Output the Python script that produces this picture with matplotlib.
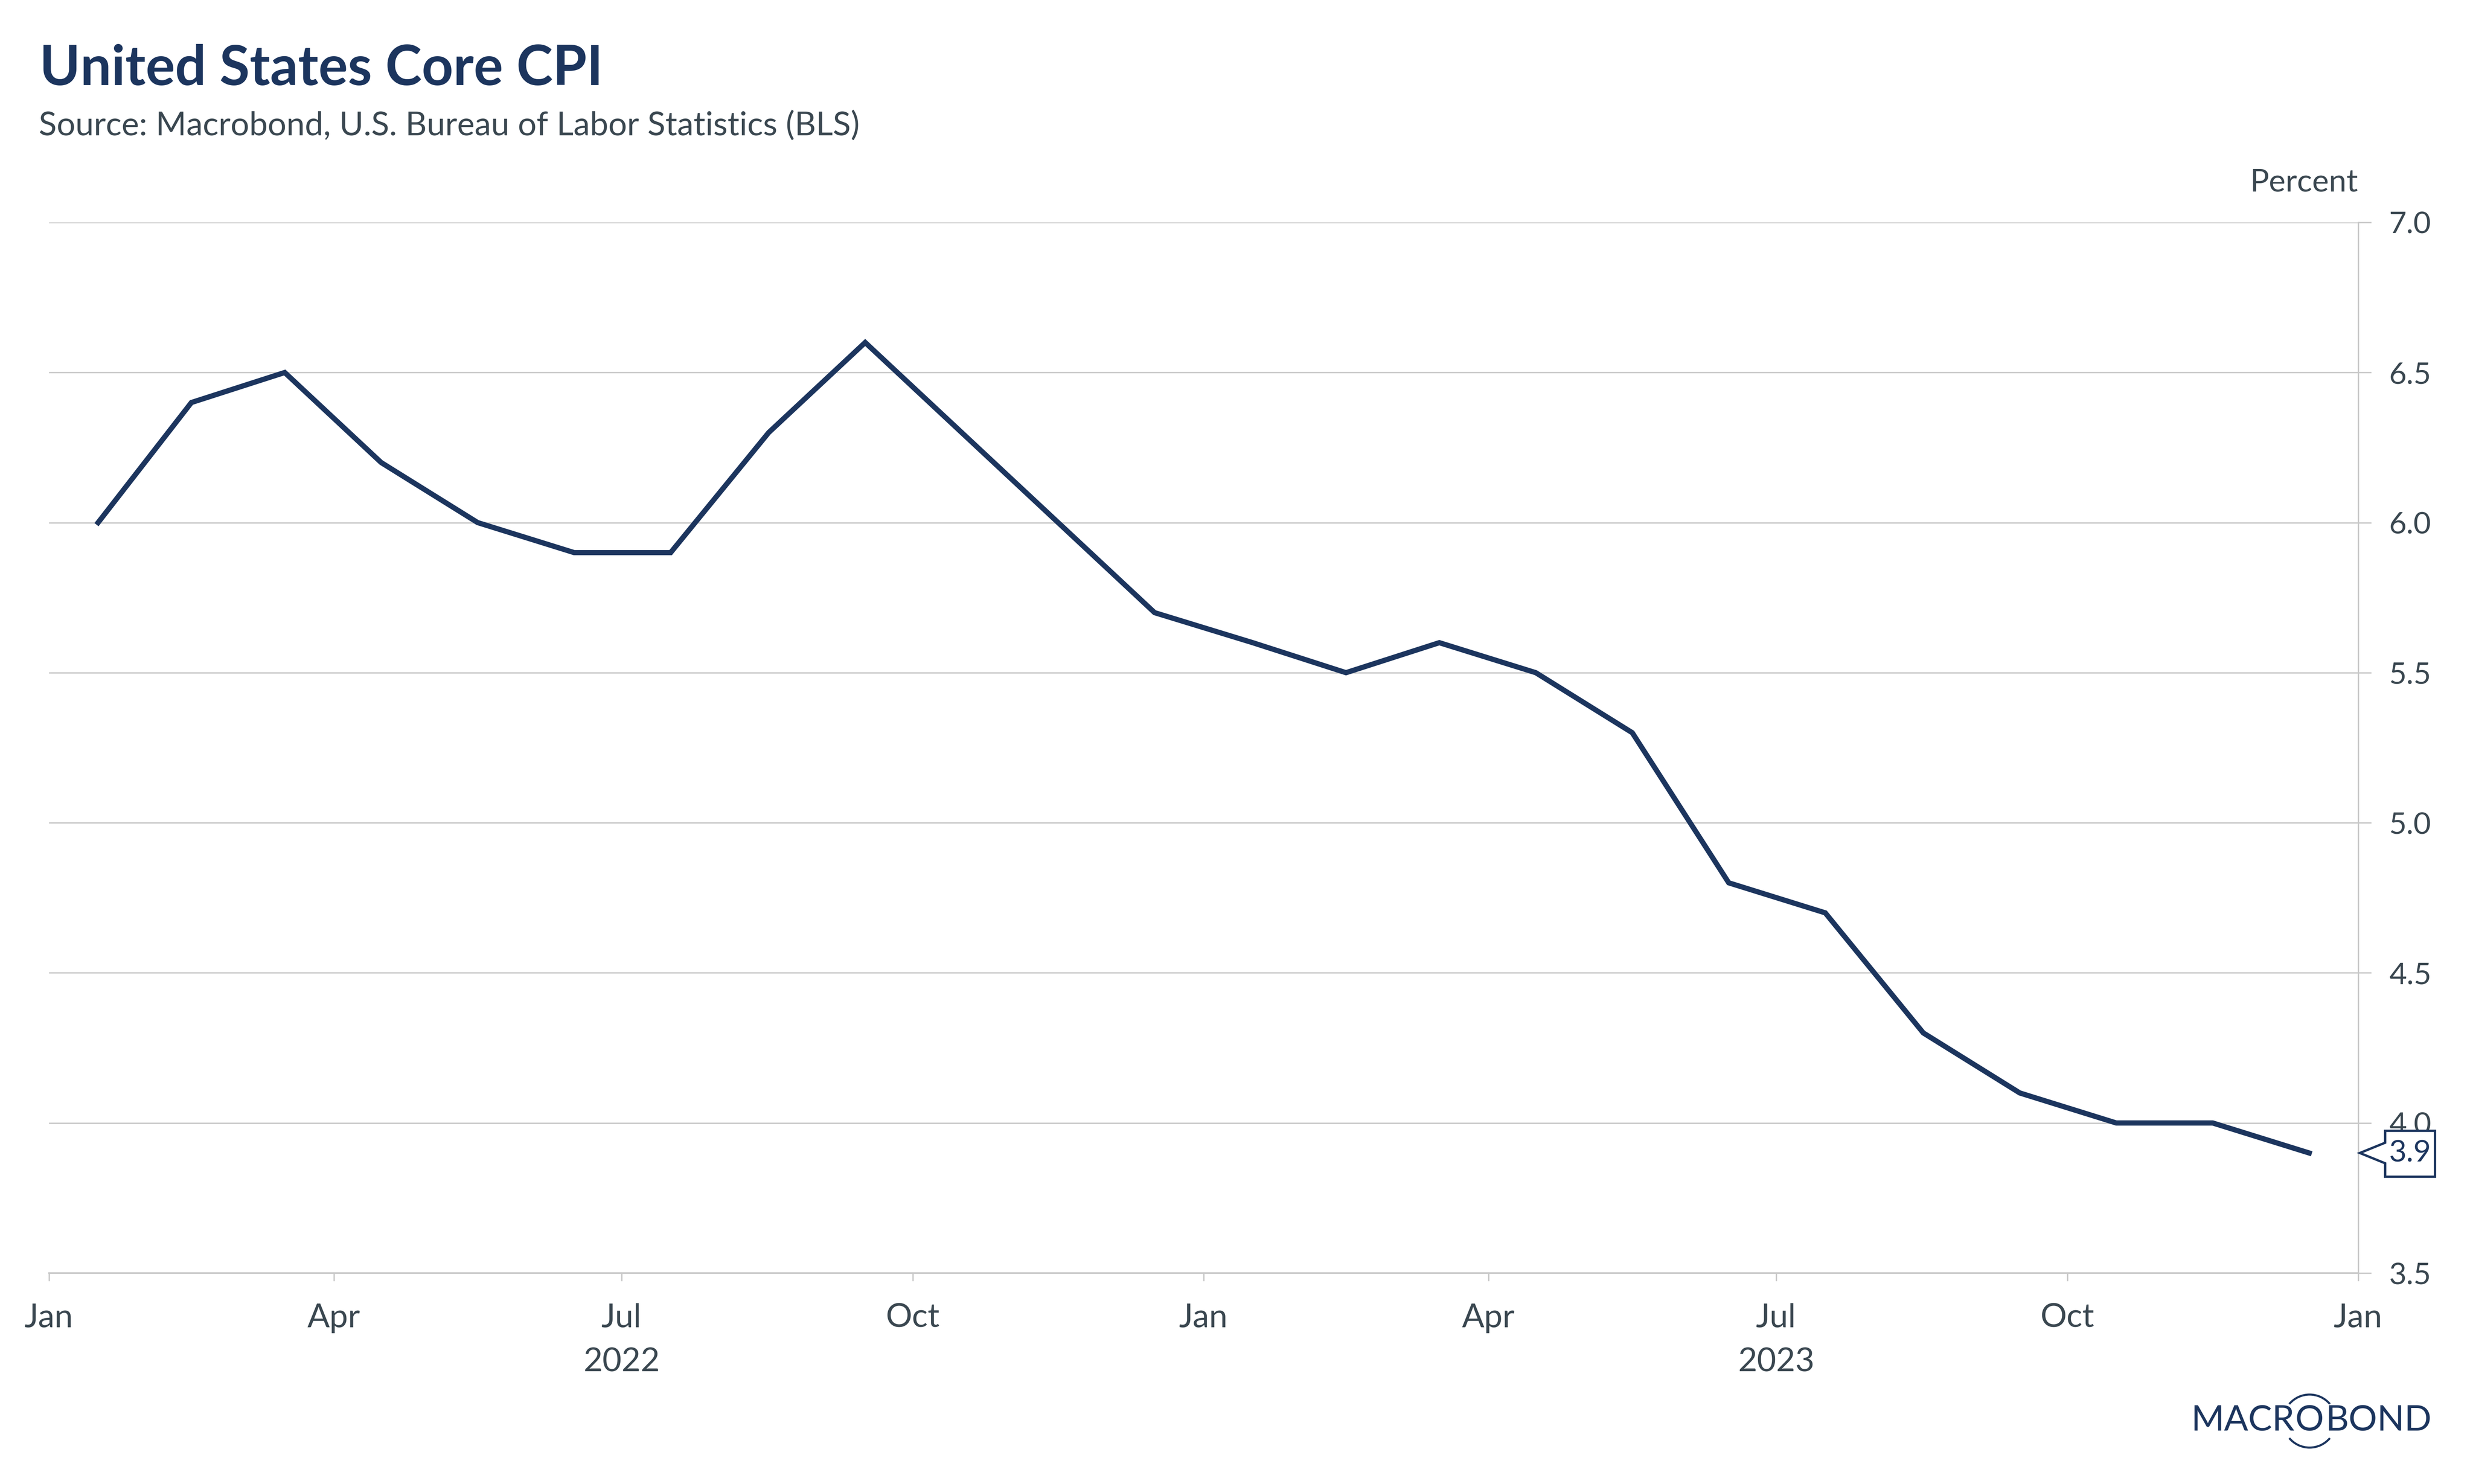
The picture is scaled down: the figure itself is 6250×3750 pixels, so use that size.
import numpy as np
import pandas as pd
import matplotlib
matplotlib.use("Agg")
import matplotlib.pyplot as plt
import matplotlib.dates as mdates
from matplotlib.patches import Polygon, Arc

# ---- data ----
month_starts = pd.date_range("2022-01-01", periods=25, freq="MS")
months = month_starts[:-1] + (month_starts[1:] - month_starts[:-1]) / 2
core_cpi = [6.0, 6.4, 6.5, 6.2, 6.0, 5.9, 5.9, 6.3, 6.6, 6.3, 6.0, 5.7,
            5.6, 5.5, 5.6, 5.5, 5.3, 4.8, 4.7, 4.3, 4.1, 4.0, 4.0, 3.9]
y_ticks = [3.5, 4.0, 4.5, 5.0, 5.5, 6.0, 6.5, 7.0]
years = [2022, 2023]
title = "United States Core CPI"
subtitle = "Source: Macrobond, U.S. Bureau of Labor Statistics (BLS)"
unit = "Percent"
last_label = "3.9"

NAVY = "#1c355e"
TXT = "#3a4750"
GRID = "#c8c8c8"
FONT = "Lato"

W, H, DPI = 6250, 3750, 500
fig = plt.figure(figsize=(W / DPI, H / DPI), dpi=DPI)
plt.rcParams["font.family"] = [FONT, "DejaVu Sans"]

left, right = 124 / W, 5960 / W
bottom, top = 1 - 3217 / H, 1 - 562 / H
ax = fig.add_axes([left, bottom, right - left, top - bottom])

ax.plot(months, core_cpi, color=NAVY, lw=1.9, solid_joinstyle="miter", zorder=3, clip_on=False)

ax.set_xlim(pd.Timestamp("2022-01-01"), pd.Timestamp("2024-01-01"))
ax.set_ylim(3.5, 7.0)

# y axis on right
ax.yaxis.tick_right()
ax.set_yticks(y_ticks)
ax.set_yticklabels([f"{v:.1f}" for v in y_ticks])
ax.tick_params(axis="y", which="major", length=4.7, width=0.5, color=GRID,
               labelsize=11, labelcolor=TXT, pad=6.5)
ax.grid(axis="y", color=GRID, lw=0.5, zorder=0)

# x axis
ax.xaxis.set_major_locator(mdates.MonthLocator(bymonth=[1, 4, 7, 10]))
ax.xaxis.set_major_formatter(mdates.DateFormatter("%b"))
ax.xaxis.set_minor_locator(mdates.YearLocator())
ax.tick_params(axis="x", which="major", length=2.9, width=0.5, color=GRID,
               labelsize=12, labelcolor=TXT, pad=8)
ax.tick_params(axis="x", which="minor", length=5.8, width=0.5, color=GRID)

for s in ["left", "top"]:
    ax.spines[s].set_visible(False)
ax.spines["bottom"].set_color(GRID)
ax.spines["bottom"].set_linewidth(0.6)
ax.spines["right"].set_color(GRID)
ax.spines["right"].set_linewidth(0.5)

# year labels centered at mid-year
for yr in years:
    ax.text(pd.Timestamp(f"{yr}-07-01"), -(3443 - 3217) / (3217 - 562), str(yr),
            transform=ax.get_xaxis_transform(),
            ha="center", va="center", fontsize=12, color=TXT)

# title etc.
fig.text(100 / W, 1 - 215 / H, title, fontsize=20, fontweight="bold", color=NAVY,
         ha="left", va="baseline")
fig.text(98 / W, 1 - 343 / H, subtitle, fontsize=12, color=TXT,
         ha="left", va="baseline")
fig.text(5960 / W, 1 - 462 / H, unit, fontsize=11.5, color=TXT,
         ha="right", va="center")

# last value callout
fig.canvas.draw()
x0, y0 = ax.get_yaxis_transform().transform((1.0, core_cpi[-1]))
x0 += 4
verts = [(x0, y0), (x0 + 64, y0 + 26), (x0 + 64, y0 + 56), (x0 + 190, y0 + 56),
         (x0 + 190, y0 - 60), (x0 + 64, y0 - 60), (x0 + 64, y0 - 26)]
poly = Polygon(verts, closed=True, facecolor="white", edgecolor=NAVY, lw=0.85,
               transform=None, joinstyle="miter")
fig.patches.append(poly)
fig.text((x0 + 127) / W, y0 / H, last_label, fontsize=11, color=NAVY,
         ha="center", va="center")

# logo
ly = 1 - 3591 / H
ox = 5837
fig.text((ox - 37) / W, ly, "MACR", fontsize=13, color=NAVY, ha="right", va="center")
fig.text(ox / W, ly, "O", fontsize=13, color=NAVY, ha="center", va="center")
fig.text((ox + 41) / W, ly, "BOND", fontsize=13, color=NAVY, ha="left", va="center")
cy = H - 3591
for t1, t2 in [(40, 140), (220, 320)]:
    a = Arc((ox, cy), 134, 134, theta1=t1, theta2=t2, color=NAVY, lw=0.75, transform=None)
    fig.patches.append(a)

fig.savefig("out.png", dpi=DPI, facecolor="white")
